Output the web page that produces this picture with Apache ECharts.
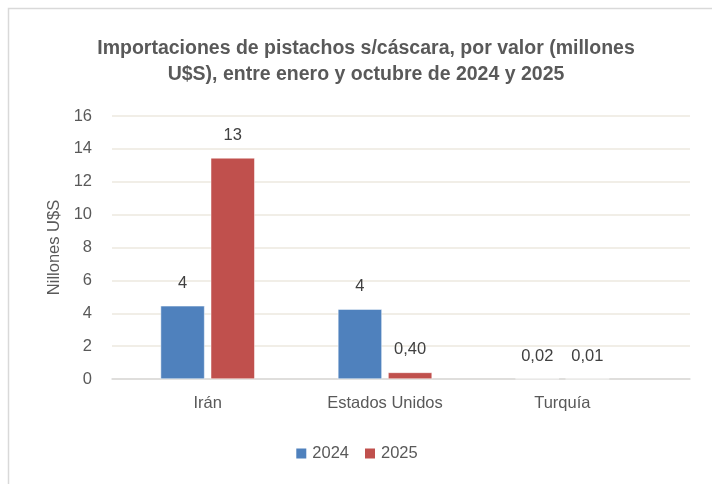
<!DOCTYPE html>
<html>
<head>
<meta charset="utf-8">
<script src="https://cdn.jsdelivr.net/npm/echarts@6/dist/echarts.min.js"></script>
<style>
  html, body { margin: 0; padding: 0; background: #fff; }
  #chart { width: 712px; height: 484px; }
</style>
</head>
<body>
<div id="chart"></div>
<script>
// countries and import values (millions U$S)
var countries = ['Irán', 'Estados Unidos', 'Turquía'];
var values2024 = [4.45, 4.25, 0.02];
var values2025 = [13.45, 0.40, 0.01];
var yTicks = [0, 2, 4, 6, 8, 10, 12, 14, 16];

var font = "'Liberation Sans Narrow', 'Liberation Sans', sans-serif";
var textColor = '#595959';

function fmtLabel(p) {
    var v = p.value;
    if (v >= 1) return Math.round(v).toString();
    return v.toFixed(2).replace('.', ',');
}

var chart = echarts.init(document.getElementById('chart'));

var option = {
    animation: false,
    graphic: [{
        type: 'rect',
        shape: { x: 8.5, y: 8.5, width: 720, height: 500 },
        style: { fill: 'none', stroke: '#d9d9d9', lineWidth: 1.5 },
        silent: true
    }],
    title: {
        text: 'Importaciones de pistachos s/cáscara, por valor (millones\nU$S), entre enero y octubre de 2024 y 2025',
        left: 361,
        top: 31,
        textAlign: 'center',
        textStyle: {
            fontFamily: font,
            fontSize: 19.5,
            fontWeight: 'bold',
            color: textColor,
            lineHeight: 26
        }
    },
    legend: {
        data: ['2024', '2025'],
        bottom: 17,
        left: 'center',
        itemWidth: 12,
        itemHeight: 12,
        itemGap: 14,
        icon: 'rect',
        textStyle: { fontFamily: font, fontSize: 16.5, color: textColor }
    },
    // grid 0: gridlines and axis line across the full plot; grid 1: the bars
    grid: [
        { left: 112, right: 22, top: 116, bottom: 105 },
        { left: 119, width: 532, top: 116, bottom: 105 }
    ],
    xAxis: [{
        type: 'category',
        gridIndex: 0,
        data: countries,
        axisTick: { show: false },
        axisLabel: { show: false },
        axisLine: { lineStyle: { color: '#d9d9d9', width: 1.5 } }
    }, {
        type: 'category',
        gridIndex: 1,
        data: countries,
        axisTick: { show: false },
        axisLine: { show: false },
        axisLabel: {
            fontFamily: font,
            fontSize: 16.5,
            color: textColor,
            margin: 16
        }
    }],
    yAxis: [{
        type: 'value',
        gridIndex: 0,
        min: yTicks[0],
        max: yTicks[yTicks.length - 1],
        interval: 2,
        name: 'Nillones U$S',
        nameLocation: 'middle',
        nameGap: 41,
        nameRotate: 90,
        nameTextStyle: { fontFamily: font, fontSize: 16.5, color: textColor },
        axisLabel: {
            fontFamily: font,
            fontSize: 16.5,
            color: textColor,
            margin: 20
        },
        splitLine: { lineStyle: { color: '#ece9df', width: 1.5 } }
    }, {
        type: 'value',
        gridIndex: 1,
        min: yTicks[0],
        max: yTicks[yTicks.length - 1],
        interval: 2,
        show: false,
        splitLine: { show: false }
    }],
    series: [{
        name: '2024',
        type: 'bar',
        xAxisIndex: 1,
        yAxisIndex: 1,
        data: values2024,
        barWidth: 44,
        barGap: '14%',
        itemStyle: { color: '#4f81bd', borderColor: '#fff', borderWidth: 0.5 },
        label: {
            show: true,
            position: 'top',
            distance: 14,
            formatter: fmtLabel,
            fontFamily: font,
            fontSize: 16.5,
            color: '#404040'
        }
    }, {
        name: '2025',
        type: 'bar',
        xAxisIndex: 1,
        yAxisIndex: 1,
        data: values2025,
        barWidth: 44,
        itemStyle: { color: '#c0504d', borderColor: '#fff', borderWidth: 0.5 },
        label: {
            show: true,
            position: 'top',
            distance: 14,
            formatter: fmtLabel,
            fontFamily: font,
            fontSize: 16.5,
            color: '#404040'
        }
    }]
};

chart.setOption(option);
</script>
</body>
</html>
